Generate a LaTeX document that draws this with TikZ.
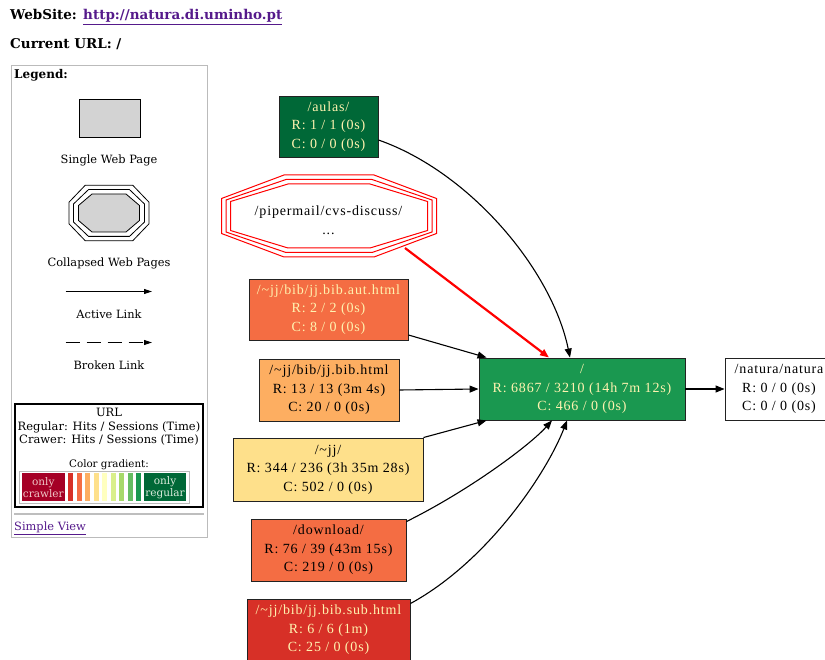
\documentclass[tikz,border=0pt]{standalone}
\usepackage{fontspec}
\setmainfont{DejaVu Serif}
\newfontfamily\gvfont{Liberation Serif}[LetterSpace=6]
\usetikzlibrary{arrows.meta}
\definecolor{cA}{HTML}{A50026}
\definecolor{cB}{HTML}{D73027}
\definecolor{cC}{HTML}{F46D43}
\definecolor{cD}{HTML}{FDAE61}
\definecolor{cE}{HTML}{FEE08B}
\definecolor{cF}{HTML}{FFFFBF}
\definecolor{cG}{HTML}{D9EF8B}
\definecolor{cH}{HTML}{A6D96A}
\definecolor{cI}{HTML}{66BD63}
\definecolor{cJ}{HTML}{1A9850}
\definecolor{cK}{HTML}{006837}
\definecolor{linkc}{HTML}{551A8B}
\definecolor{paletxt}{HTML}{FFF3B0}
\definecolor{legbord}{HTML}{BBBBBB}
\definecolor{lgray}{HTML}{D3D3D3}
\definecolor{sepgray}{HTML}{BEBEBE}
\definecolor{crtxt}{HTML}{F0C8C8}
\definecolor{regtxt}{HTML}{DCEBDC}
\definecolor{nodebord}{HTML}{222222}
\newcommand\octg[7][]{%
  \draw[#1] ({#2-#6},{#3-#5}) -- ({#2+#6},{#3-#5}) -- ({#2+#4},{#3-#7}) -- ({#2+#4},{#3+#7})
   -- ({#2+#6},{#3+#5}) -- ({#2-#6},{#3+#5}) -- ({#2-#4},{#3+#7}) -- ({#2-#4},{#3-#7}) -- cycle;}
\begin{document}
\begin{tikzpicture}[x=1pt,y=-1pt,
  gvnode/.style={draw=nodebord, line width=0.9pt, rectangle, inner sep=0pt, align=center,
    font=\gvfont\fontsize{14}{18.5}\selectfont, execute at begin node={\rule{0pt}{16.5pt}}},
  gvedge/.style={line width=1.1pt, -{Triangle[length=9pt,width=7pt]}},
  legtext/.style={inner sep=0pt, anchor=base, font=\fontsize{11.4}{13}\selectfont},
  urltext/.style={inner sep=0pt, anchor=base, font=\fontsize{11.5}{13}\selectfont},
  cell/.style={draw=white, line width=0.6pt}
]
\useasboundingbox (0,0) rectangle (825,660);

% header
\node[inner sep=0pt, anchor=base west, font=\bfseries\fontsize{13.5}{16}\selectfont] (site) at (10,20)
  {WebSite: \textcolor{linkc}{\underline{http://natura.di.uminho.pt}}};
\node[inner sep=0pt, anchor=base west, font=\bfseries\fontsize{13.5}{16}\selectfont] (cur) at (10,49)
  {Current URL: /};

% legend
\draw[legbord, line width=1pt] (11,66) rectangle (207,537);
\node[inner sep=0pt, anchor=base west, font=\bfseries\fontsize{12}{14}\selectfont] (leg) at (14,79) {Legend:};
\draw[fill=lgray, line width=0.8pt] (79,99) rectangle (140,137.5);
\node[legtext] (lsingle) at (109,163.5) {Single Web Page};
\octg[line width=0.8pt]{109}{213}{40}{27.8}{23.7}{10.8}
\octg[line width=0.8pt]{109}{213}{35.5}{23.4}{20.5}{9}
\octg[line width=0.8pt, fill=lgray]{109}{213}{30.5}{19}{17}{7.5}
\node[legtext] (lcoll) at (109,266.5) {Collapsed Web Pages};
\coordinate (la1) at (65.5,291.5);
\coordinate (la2) at (152,291.5);
\draw[line width=1pt, -{Triangle[length=8pt,width=5pt]}] (la1) -- (la2);
\node[legtext] (lact) at (109,318.5) {Active Link};
\coordinate (lb1) at (65.5,342.5);
\coordinate (lb2) at (152,342.5);
\draw[line width=1pt, dash pattern=on 14pt off 7pt, -{Triangle[length=8pt,width=5pt]}] (lb1) -- (lb2);
\node[legtext] (lbrk) at (109,370) {Broken Link};

\draw[line width=2pt] (15,404) rectangle (203,507);
\node[urltext] (uurl) at (109,416.7) {URL};
\node[urltext] (ureg) at (109,430) {Regular: Hits / Sessions (Time)};
\node[urltext] (ucra) at (109,443.3) {Crawer: Hits / Sessions (Time)};
\node[inner sep=0pt, anchor=base, font=\fontsize{10.3}{12}\selectfont] (ugrad) at (109,467.3) {Color gradient:};
\draw[legbord, line width=1pt] (19,471) rectangle (189,503);
\draw[cell, fill=cA] (21.7,472.7) rectangle (65,501.5);
\node[inner sep=0pt, align=center, text=crtxt, font=\fontsize{10.5}{11.5}\selectfont] (ocr) at (43.3,487.5) {only\\crawler};
\foreach \c [count=\i from 0] in {cB,cC,cD,cE,cF,cG,cH,cI,cJ} {
  \draw[cell, fill=\c] ({67.7+8.45*\i},472.7) rectangle ({73.7+8.45*\i},501.5);
}
\draw[cell, fill=cK] (143.7,472.7) rectangle (186,501.5);
\node[inner sep=0pt, align=center, text=regtxt, font=\fontsize{10.5}{11.5}\selectfont] (ore) at (165,487.5) {only\\regular};
\draw[sepgray, line width=2pt] (14,513.5) -- (204,513.5);
\node[inner sep=0pt, anchor=base west, text=linkc, font=\fontsize{11.4}{13}\selectfont] (simple) at (14,530.7) {\underline{Simple View}};

% graph nodes
\node[gvnode, fill=cK, text=paletxt, minimum width=99pt, minimum height=61pt] (aulas) at (328.5,126.5)
  {/aulas/\\R: 1 / 1 (0s)\\C: 0 / 0 (0s)};
\node[gvnode, draw=none, fill=none, minimum width=200pt, minimum height=60pt, execute at begin node={}] (pip) at (328.5,220)
  {/pipermail/cvs-discuss/\\...};
\octg[red, line width=1pt]{329}{216}{107.5}{41}{45}{17.5}
\octg[red, line width=1pt]{329}{216}{103}{36.5}{43}{16}
\octg[red, line width=1pt]{329}{216}{98.5}{32}{41}{14.5}
\node[gvnode, fill=cC, text=paletxt, minimum width=159pt, minimum height=61pt] (aut) at (328.5,309.5)
  {/\textasciitilde jj/bib/jj.bib.aut.html\\R: 2 / 2 (0s)\\C: 8 / 0 (0s)};
\node[gvnode, fill=cD, minimum width=140pt, minimum height=62pt] (bib) at (329,390)
  {/\textasciitilde jj/bib/jj.bib.html\\R: 13 / 13 (3m 4s)\\C: 20 / 0 (0s)};
\node[gvnode, fill=cE, minimum width=190pt, minimum height=63pt] (jj) at (328,469.5)
  {/\textasciitilde jj/\\R: 344 / 236 (3h 35m 28s)\\C: 502 / 0 (0s)};
\node[gvnode, fill=cC, minimum width=155pt, minimum height=62pt] (dl) at (328.5,550)
  {/download/\\R: 76 / 39 (43m 15s)\\C: 219 / 0 (0s)};
\node[gvnode, fill=cB, text=paletxt, minimum width=163pt, minimum height=62pt] (sub) at (328.5,630)
  {/\textasciitilde jj/bib/jj.bib.sub.html\\R: 6 / 6 (1m)\\C: 25 / 0 (0s)};
\node[gvnode, fill=cJ, text=paletxt, minimum width=206pt, minimum height=62pt] (root) at (582,389)
  {/\\R: 6867 / 3210 (14h 7m 12s)\\C: 466 / 0 (0s)};
\node[gvnode, fill=white, minimum width=108pt, minimum height=62pt] (nat) at (779,389)
  {/natura/natura\\R: 0 / 0 (0s)\\C: 0 / 0 (0s)};

% edges
\draw[gvedge] ([yshift=-13.5pt]aulas.east) .. controls (470,172) and (552,270) .. ([xshift=-12pt]root.north);
\coordinate (pipout) at ([shift={(76.5,28)}]pip.center);
\draw[gvedge, red, line width=2.2pt] (pipout) -- ([xshift=-33pt]root.north);
\draw[gvedge] ([yshift=-25.5pt]aut.east) -- ([xshift=8pt]root.north west);
\draw[gvedge] (bib.east) -- (root.west);
\draw[gvedge] (jj.north east) -- ([xshift=8pt]root.south west);
\draw[gvedge] ([yshift=-3pt]dl.north east) .. controls (470,490) and (530,445) .. ([xshift=-30pt]root.south);
\draw[gvedge] ([yshift=-5pt]sub.north east) .. controls (490,560) and (548,470) .. ([xshift=-15pt]root.south);
\draw[gvedge] (root.east) -- (nat.west);
\end{tikzpicture}
\end{document}
